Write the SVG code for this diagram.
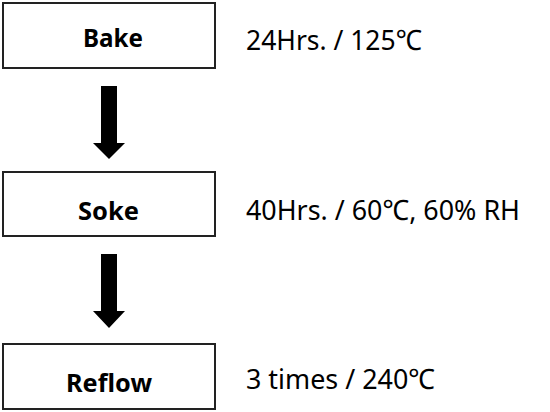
<svg xmlns="http://www.w3.org/2000/svg" width="550" height="412" viewBox="0 0 550 412">
<style>
.box{fill:#fff;stroke:#222;stroke-width:2}
.lbl{font-family:"Noto Sans","Open Sans","DejaVu Sans",sans-serif;font-weight:bold;font-size:25.5px;fill:#000}
.note{font-family:"Noto Sans","Open Sans","DejaVu Sans",sans-serif;font-size:28px;fill:#000}
.arr{fill:#000}
</style>
<rect width="550" height="412" fill="#fff"/>
<g id="connectors">
<polygon class="arr" points="101,86 117,86 117,143 125,143 109,159 93,143 101,143"/>
<polygon class="arr" points="101,254 117,254 117,311 125,311 109,328 93,311 101,311"/>
</g>
<g id="bake">
<rect class="box" x="3" y="3" width="212" height="65"/>
<text class="lbl" x="83" y="47" textLength="60" lengthAdjust="spacingAndGlyphs">Bake</text>
<text class="note" x="246" y="50" textLength="176" lengthAdjust="spacingAndGlyphs">24Hrs. / 125℃</text>
</g>
<g id="soke">
<rect class="box" x="3" y="172" width="212" height="64"/>
<text class="lbl" x="78" y="220" textLength="61" lengthAdjust="spacingAndGlyphs">Soke</text>
<text class="note" x="246" y="220" textLength="274" lengthAdjust="spacingAndGlyphs">40Hrs. / 60℃, 60% RH</text>
</g>
<g id="reflow">
<rect class="box" x="3" y="344" width="212" height="65"/>
<text class="lbl" x="66" y="392" textLength="86" lengthAdjust="spacingAndGlyphs">Reflow</text>
<text class="note" x="246" y="389" textLength="189" lengthAdjust="spacingAndGlyphs">3 times / 240℃</text>
</g>
</svg>
